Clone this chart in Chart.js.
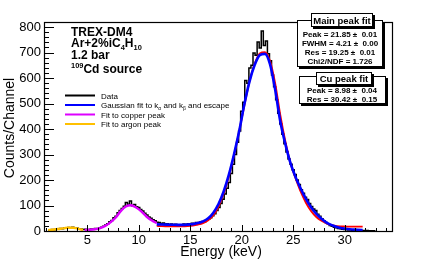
<!DOCTYPE html>
<html>
<head>
<meta charset="utf-8">
<script src="https://cdn.jsdelivr.net/npm/chart.js@4.4.1/dist/chart.umd.min.js"></script>
<style>
  body { margin: 0; background: #fff; }
  canvas { display: block; }
</style>
</head>
<body>
<canvas id="spectrum" width="436" height="262"></canvas>
<script>
const FONT = "'Liberation Sans', Arial, Helvetica, sans-serif";

const CHART_COLORS = {
  data: "#000000",
  main: "#0000ff",
  gauss: "#ff0000",
  copper: "#dd00ff",
  argon: "#ffc000",
};

// histogram bin centres (keV) and counts per channel
const energy = [
  1.2, 1.4, 1.6, 1.8, 2.0, 2.2, 2.4, 2.6, 2.8, 3.0, 3.2, 3.4, 3.6, 3.8, 4.0, 4.2, 4.4, 4.6, 4.8, 5.0,
  5.2, 5.4, 5.6, 5.8, 6.0, 6.2, 6.4, 6.6, 6.8, 7.0, 7.2, 7.4, 7.6, 7.8, 8.0, 8.2, 8.4, 8.6, 8.8, 9.0,
  9.2, 9.4, 9.6, 9.8, 10.0, 10.2, 10.4, 10.6, 10.8, 11.0, 11.2, 11.4, 11.6, 11.8, 12.0, 12.2, 12.4, 12.6, 12.8, 13.0,
  13.2, 13.4, 13.6, 13.8, 14.0, 14.2, 14.4, 14.6, 14.8, 15.0, 15.2, 15.4, 15.6, 15.8, 16.0, 16.2, 16.4, 16.6, 16.8, 17.0,
  17.2, 17.4, 17.6, 17.8, 18.0, 18.2, 18.4, 18.6, 18.8, 19.0, 19.2, 19.4, 19.6, 19.8, 20.0, 20.2, 20.4, 20.6, 20.8, 21.0,
  21.2, 21.4, 21.6, 21.8, 22.0, 22.2, 22.4, 22.6, 22.8, 23.0, 23.2, 23.4, 23.6, 23.8, 24.0, 24.2, 24.4, 24.6, 24.8, 25.0,
  25.2, 25.4, 25.6, 25.8, 26.0, 26.2, 26.4, 26.6, 26.8, 27.0, 27.2, 27.4, 27.6, 27.8, 28.0, 28.2, 28.4, 28.6, 28.8, 29.0,
  29.2, 29.4, 29.6, 29.8, 30.0, 30.2, 30.4, 30.6, 30.8, 31.0, 31.2, 31.4, 31.6, 31.8, 32.0, 32.2, 32.4, 32.6, 32.8, 33.0,
];
const counts = [
  0, 4, 6, 5, 8, 7, 10, 9, 12, 11, 14, 12, 15, 11, 12, 9, 8, 6, 7, 5,
  6, 8, 7, 10, 9, 13, 15, 19, 24, 28, 36, 41, 52, 58, 72, 80, 88, 97, 112, 105,
  118, 99, 104, 95, 92, 84, 78, 70, 63, 55, 50, 44, 40, 34, 33, 29, 31, 27, 28, 25,
  27, 24, 26, 22, 25, 23, 27, 24, 28, 26, 30, 28, 33, 31, 35, 37, 36, 42, 46, 52,
  60, 68, 80, 92, 108, 125, 145, 168, 190, 226, 262, 300, 348, 392, 470, 505, 590, 580, 640, 650,
  698, 690, 742, 718, 785, 728, 745, 695, 668, 612, 566, 515, 462, 420, 380, 342, 310, 282, 262, 240,
  222, 200, 182, 162, 148, 132, 124, 108, 96, 86, 80, 66, 58, 48, 40, 33, 28, 22, 19, 15,
  13, 10, 9, 7, 6, 5, 4, 4, 3, 3, 2, 3, 2, 2, 1, 2, 1, 1, 1, 0,
];

// fit curves
const fitMainE = [
  11.75, 12.25, 12.75, 13.25, 13.75, 14.25, 14.75, 15.25, 15.75, 16.25, 16.75, 17.25, 17.75, 18.25,
  18.75, 19.25, 19.75, 20.25, 20.75, 21.25, 21.75, 22.25, 22.75, 23.25, 23.75, 24.25, 24.75, 25.25,
  25.75, 26.25, 26.75, 27.25, 27.75, 28.25, 28.75, 29.25, 29.75, 30.25, 30.75, 31.25, 31.75,
];
const fitFull = [
  26, 25.5, 25, 24.5, 24, 24, 25, 27, 31, 38, 50, 72, 106, 155,
  220, 300, 390, 495, 585, 650, 690, 695, 655, 555, 430, 340, 265, 210,
  165, 125, 92, 67, 48, 33, 23, 16, 11, 8, 6, 5, 4,
];
const fitGauss = [
  20, 19, 18.5, 18, 18, 18, 19, 21, 25, 31, 42, 62, 96, 146,
  214, 296, 390, 490, 585, 655, 697, 702, 668, 580, 455, 350, 265, 205,
  152, 110, 78, 55, 40, 30, 23, 19, 18, 17, 17, 17, 17,
];
const fitCuE = [4.75, 5.25, 5.75, 6.25, 6.75, 7.25, 7.75, 8.25, 8.75, 9.25, 9.75, 10.25, 10.75, 11.25, 11.75];
const fitCu = [4, 5, 7, 11, 20, 34, 52, 78, 96, 101, 92, 77, 57, 42, 31];
const fitArE = [1.2, 1.6, 2.0, 2.4, 2.8, 3.2, 3.6, 4.0, 4.4, 4.6];
const fitAr = [3, 5, 7, 9, 11.5, 13, 13, 10, 6, 4];

const xTicks = [5, 10, 15, 20, 25, 30];
const yTicks = [0, 100, 200, 300, 400, 500, 600, 700, 800];

const legendItems = [
  { color: CHART_COLORS.data, runs: [{ t: "Data" }] },
  { color: CHART_COLORS.main, runs: [{ t: "Gaussian fit to k" }, { t: "\u03b1", sub: true }, { t: " and k" }, { t: "\u03b2", sub: true }, { t: " and escape" }] },
  { color: CHART_COLORS.copper, runs: [{ t: "Fit to copper peak" }] },
  { color: CHART_COLORS.argon, runs: [{ t: "Fit to argon peak" }] },
];

const mainFitLines = ["Peak = 21.85 \u00b1  0.01", "FWHM = 4.21 \u00b1  0.00", "Res = 19.25 \u00b1  0.01", "Chi2/NDF = 1.726"];
const cuFitLines = ["Peak = 8.98 \u00b1  0.04", "Res = 30.42 \u00b1  0.15"];

function toPoints(xs, ys) {
  return xs.map((x, i) => ({ x: x, y: ys[i] }));
}

function drawRuns(ctx, x, y, runs, size, weight) {
  let cx = x;
  runs.forEach((r) => {
    const small = r.sub || r.sup;
    const s = small ? size * 0.62 : size;
    ctx.font = `${weight} ${s}px ${FONT}`;
    const dy = r.sub ? size * 0.25 : r.sup ? -size * 0.42 : 0;
    ctx.fillText(r.t, cx, y + dy);
    cx += ctx.measureText(r.t).width;
  });
}

function drawPave(ctx, x1, y1, x2, y2) {
  ctx.fillStyle = "#000";
  ctx.fillRect(x1 + 2, y2, x2 - x1, 2);
  ctx.fillRect(x2, y1 + 2, 2, y2 - y1);
  ctx.fillStyle = "#fff";
  ctx.fillRect(x1, y1, x2 - x1, y2 - y1);
  ctx.strokeStyle = "#000";
  ctx.lineWidth = 1;
  ctx.strokeRect(x1 + 0.5, y1 + 0.5, x2 - x1 - 1, y2 - y1 - 1);
}

const rootStyle = {
  id: "rootStyle",
  afterDatasetsDraw(chart) {
    const { ctx, chartArea: a, scales } = chart;
    ctx.save();
    ctx.strokeStyle = "#000";
    ctx.lineWidth = 1;
    ctx.beginPath();
    // y ticks inside frame
    for (let v = 0; v <= 820; v += 20) {
      const y = Math.round(scales.y.getPixelForValue(v)) + 0.5;
      const len = v % 100 === 0 ? 10 : 5;
      ctx.moveTo(a.left, y);
      ctx.lineTo(a.left + len, y);
    }
    // x ticks inside frame
    for (let v = 1; v <= 34; v += 1) {
      const x = Math.round(scales.x.getPixelForValue(v)) + 0.5;
      const len = v % 5 === 0 ? 6 : 3;
      ctx.moveTo(x, a.bottom);
      ctx.lineTo(x, a.bottom - len);
    }
    ctx.stroke();
    ctx.lineWidth = 1.2;
    ctx.strokeRect(a.left + 0.5, a.top + 0.5, a.right - a.left, a.bottom - a.top);
    ctx.restore();
  },
  afterDraw(chart) {
    const { ctx } = chart;
    ctx.save();
    ctx.fillStyle = "#000";
    ctx.textBaseline = "alphabetic";

    // axis titles
    ctx.font = `14px ${FONT}`;
    ctx.textAlign = "center";
    ctx.fillText("Energy (keV)", 221, 256);
    ctx.save();
    ctx.translate(14, 128);
    ctx.rotate(-Math.PI / 2);
    ctx.fillText("Counts/Channel", 0, 0);
    ctx.restore();

    // detector description
    ctx.textAlign = "left";
    drawRuns(ctx, 71, 36, [{ t: "TREX-DM4" }], 12, "bold");
    drawRuns(ctx, 71, 47, [{ t: "Ar+2%iC" }, { t: "4", sub: true }, { t: "H" }, { t: "10", sub: true }], 12, "bold");
    drawRuns(ctx, 71, 59, [{ t: "1.2 bar" }], 12, "bold");
    drawRuns(ctx, 71, 73, [{ t: "109", sup: true }, { t: "Cd source" }], 12, "bold");

    // legend
    legendItems.forEach((item, i) => {
      const y = 95.5 + i * 9.5;
      ctx.strokeStyle = item.color;
      ctx.lineWidth = 2;
      ctx.beginPath();
      ctx.moveTo(65, y);
      ctx.lineTo(95, y);
      ctx.stroke();
      ctx.fillStyle = "#000";
      drawRuns(ctx, 101, y + 3, item.runs, 8, "normal");
    });

    // fit result boxes
    drawPave(ctx, 297, 20, 383, 67);
    drawPave(ctx, 311, 13, 373, 27);
    ctx.fillStyle = "#000";
    ctx.textAlign = "center";
    ctx.font = `bold 9.5px ${FONT}`;
    ctx.fillText("Main peak fit", 342, 23.5);
    ctx.font = `bold 8px ${FONT}`;
    mainFitLines.forEach((t, i) => ctx.fillText(t, 340, 37 + i * 9));

    drawPave(ctx, 299, 76, 386, 104);
    drawPave(ctx, 316, 72, 372, 85);
    ctx.fillStyle = "#000";
    ctx.font = `bold 9.5px ${FONT}`;
    ctx.fillText("Cu peak fit", 344, 82);
    ctx.font = `bold 8px ${FONT}`;
    cuFitLines.forEach((t, i) => ctx.fillText(t, 342, 93.3 + i * 9));

    ctx.restore();
  },
};

function createSpectrumChart() {
  const ctx = document.getElementById("spectrum").getContext("2d");
  const tickFont = { family: FONT, size: 13 };

  new Chart(ctx, {
    type: "line",
    data: {
      datasets: [
        {
          label: "Data",
          data: toPoints(energy, counts),
          borderColor: CHART_COLORS.data,
          borderWidth: 1.5,
          stepped: "middle",
          pointRadius: 0,
          order: 5,
        },
        {
          label: "Gaussian",
          data: toPoints(fitMainE, fitGauss),
          borderColor: CHART_COLORS.gauss,
          borderWidth: 1.8,
          cubicInterpolationMode: "monotone",
          pointRadius: 0,
          order: 4,
        },
        {
          label: "Gaussian fit to ka and kb and escape",
          data: toPoints(fitMainE, fitFull),
          borderColor: CHART_COLORS.main,
          borderWidth: 2.6,
          cubicInterpolationMode: "monotone",
          pointRadius: 0,
          order: 3,
        },
        {
          label: "Fit to copper peak",
          data: toPoints(fitCuE, fitCu),
          borderColor: CHART_COLORS.copper,
          borderWidth: 2.4,
          cubicInterpolationMode: "monotone",
          pointRadius: 0,
          order: 2,
        },
        {
          label: "Fit to argon peak",
          data: toPoints(fitArE, fitAr),
          borderColor: CHART_COLORS.argon,
          borderWidth: 2.4,
          cubicInterpolationMode: "monotone",
          pointRadius: 0,
          order: 1,
        },
      ],
    },
    options: {
      responsive: false,
      animation: false,
      layout: { padding: { top: 22, right: 44, left: 0, bottom: 0 } },
      plugins: {
        legend: { display: false },
        tooltip: { enabled: false },
      },
      scales: {
        x: {
          type: "linear",
          min: 0.8,
          max: 34.6,
          afterBuildTicks: (s) => { s.ticks = xTicks.map((v) => ({ value: v })); },
          afterFit: (s) => { s.height = 31; },
          grid: { display: false, drawTicks: false },
          border: { display: false },
          ticks: { color: "#000", font: tickFont, padding: 2, maxRotation: 0, autoSkip: false },
        },
        y: {
          min: 0,
          max: 820,
          afterBuildTicks: (s) => { s.ticks = yTicks.map((v) => ({ value: v })); },
          afterFit: (s) => { s.width = 44; },
          grid: { display: false, drawTicks: false },
          border: { display: false },
          ticks: { color: "#000", font: tickFont, padding: 3, autoSkip: false },
        },
      },
    },
    plugins: [rootStyle],
  });
}

createSpectrumChart();
</script>
</body>
</html>
